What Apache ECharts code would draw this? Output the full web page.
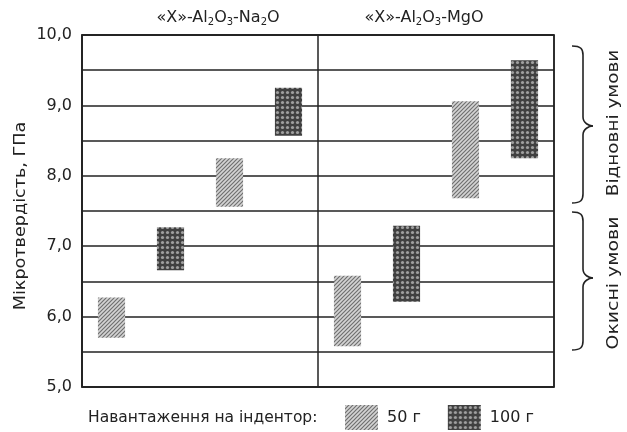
<!DOCTYPE html>
<html>
<head>
<meta charset="utf-8">
<script src="https://cdn.jsdelivr.net/npm/echarts@6/dist/echarts.min.js"></script>
<style>html,body{margin:0;padding:0;background:#fff}#c{width:627px;height:432px}</style>
</head>
<body>
<div id="c"></div>
<script>
// ---- data ----
const systems = ['«X»-Al2O3-Na2O', '«X»-Al2O3-MgO'];
const categories = ['Na2O ок. 50', 'Na2O ок. 100', 'Na2O від. 50', 'Na2O від. 100',
                    'MgO ок. 50', 'MgO ок. 100', 'MgO від. 50', 'MgO від. 100'];
const loads = ['50 г', '100 г', '50 г', '100 г', '50 г', '100 г', '50 г', '100 г'];
const lowValues  = [5.70, 6.66, 7.56, 8.57, 5.58, 6.21, 7.68, 8.25];
const highValues = [6.27, 7.27, 8.25, 9.25, 6.58, 7.29, 9.06, 9.64];
const yTicks = [5, 6, 7, 8, 9, 10];
const legendNames = ['50 г', '100 г'];
const yName = 'Мікротвердість, ГПа';
const legendTitle = 'Навантаження на індентор:';
const condTop = 'Відновні умови';
const condBottom = 'Окисні умови';

// ---- patterns ----
function hatchPattern() {
  const c = document.createElement('canvas');
  c.width = 4; c.height = 4;
  const g = c.getContext('2d');
  g.fillStyle = '#d4d4d4'; g.fillRect(0, 0, 4, 4);
  g.strokeStyle = '#707070'; g.lineWidth = 1.2;
  g.beginPath();
  g.moveTo(-1, 5); g.lineTo(5, -1);
  g.moveTo(-1, 1); g.lineTo(1, -1);
  g.moveTo(3, 5); g.lineTo(5, 3);
  g.stroke();
  return c;
}
function crossPattern() {
  const c = document.createElement('canvas');
  c.width = 5; c.height = 5;
  const g = c.getContext('2d');
  g.fillStyle = '#404040'; g.fillRect(0, 0, 5, 5);
  g.fillStyle = '#a0a0a0';
  g.beginPath(); g.arc(2.5, 2.5, 1.6, 0, Math.PI * 2); g.fill();
  return c;
}
const fills = {
  '50 г': { image: hatchPattern(), repeat: 'repeat' },
  '100 г': { image: crossPattern(), repeat: 'repeat' }
};

const FONT = '"DejaVu Sans", "Liberation Sans", Arial, sans-serif';
const FS = 16;
const TXT = '#222';

function seriesFor(name) {
  const data = [];
  categories.forEach((c, i) => {
    if (loads[i] === name) data.push([i, lowValues[i], highValues[i]]);
  });
  return {
    type: 'custom',
    name: name,
    xAxisIndex: 0,
    itemStyle: { color: fills[name] },
    encode: { x: 0, y: [1, 2] },
    data: data,
    renderItem: function (params, api) {
      const x = api.value(0);
      const lo = api.coord([x, api.value(1)]);
      const hi = api.coord([x, api.value(2)]);
      const w = api.size([1, 0])[0] * 0.46;
      return {
        type: 'rect',
        shape: { x: lo[0] - w / 2, y: hi[1], width: w, height: lo[1] - hi[1] },
        style: { fill: fills[name] }
      };
    }
  };
}

function sysLabel(v, idx) {
  const parts = v.replace(/(\d)/g, '|$1|').split('|');
  let s = idx === 0 ? '{sp|}' : '';
  parts.forEach(p => {
    if (p === '') return;
    if (/^\d$/.test(p)) s += '{s|' + p + '}';
    else s += '{t|' + p + '}';
  });
  if (idx === 1) s += '{sp2|}';
  return s;
}

// curly brace made of bezier pieces (decoration)
function brace(xl, xm, xt, y0, ym, y1) {
  const st = { stroke: TXT, lineWidth: 1.6, fill: null };
  const r = 9;
  return [
    { type: 'bezierCurve', shape: { x1: xl, y1: y0, cpx1: xm - 2, cpy1: y0, cpx2: xm, cpy2: y0 + 3, x2: xm, y2: y0 + r }, style: st },
    { type: 'line', shape: { x1: xm, y1: y0 + r, x2: xm, y2: ym - r }, style: st },
    { type: 'bezierCurve', shape: { x1: xm, y1: ym - r, cpx1: xm, cpy1: ym - 3, cpx2: xt - 4, cpy2: ym, x2: xt, y2: ym }, style: st },
    { type: 'bezierCurve', shape: { x1: xt, y1: ym, cpx1: xt - 4, cpy1: ym, cpx2: xm, cpy2: ym + 3, x2: xm, y2: ym + r }, style: st },
    { type: 'line', shape: { x1: xm, y1: ym + r, x2: xm, y2: y1 - r }, style: st },
    { type: 'bezierCurve', shape: { x1: xm, y1: y1 - r, cpx1: xm, cpy1: y1 - 3, cpx2: xm - 2, cpy2: y1, x2: xl, y2: y1 }, style: st }
  ];
}

const chart = echarts.init(document.getElementById('c'), null, { renderer: 'canvas' });
chart.setOption({
  animation: false,
  backgroundColor: '#fff',
  grid: { left: 82, right: 73, top: 35, bottom: 45, show: true, borderColor: TXT, borderWidth: 1.5, backgroundColor: 'transparent' },
  xAxis: [
    {
      type: 'category', data: categories, position: 'bottom',
      axisLine: { show: true, lineStyle: { color: TXT, width: 1.5 } },
      axisTick: { show: false }, axisLabel: { show: false }, splitLine: { show: false }
    },
    {
      type: 'category', data: systems, position: 'top',
      axisLine: { show: true, lineStyle: { color: TXT, width: 1.5 } },
      axisTick: { show: false, interval: 0 },
      splitLine: { show: true, interval: 0, lineStyle: { color: TXT, width: 1.5 } },
      axisLabel: {
        margin: 8,
        interval: 0,
        hideOverlap: false,
        formatter: sysLabel,
        rich: {
          t: { fontSize: FS, fontFamily: FONT, color: TXT },
          s: { fontSize: 10, fontFamily: FONT, color: TXT, padding: [8, 0, 0, 0] },
          sp: { width: 36 },
          sp2: { width: 24 }
        }
      }
    }
  ],
  yAxis: {
    type: 'value', min: 5, max: 10, interval: 0.5,
    axisLine: { show: true, lineStyle: { color: TXT, width: 1.5 } },
    axisTick: { show: false },
    splitLine: { show: true, lineStyle: { color: TXT, width: 1.5 } },
    axisLabel: {
      margin: 10, fontSize: FS, fontFamily: FONT, color: TXT,
      formatter: function (v) {
        const r = Math.round(v);
        if (Math.abs(v - r) > 1e-6 || yTicks.indexOf(r) < 0) return '';
        return r.toFixed(1).replace('.', ',');
      }
    }
  },
  legend: {
    data: legendNames,
    left: 345, top: 405, padding: 0,
    itemWidth: 33, itemHeight: 25, itemGap: 27,
    icon: 'rect',
    textStyle: { fontSize: FS, fontFamily: FONT, color: TXT, padding: [0, 0, 0, 4] },
    selectedMode: false
  },
  graphic: [
    { type: 'text', x: 21, y: 216, rotation: Math.PI / 2, scaleX: 1.1,
      style: { text: yName, fontSize: FS, fontFamily: FONT, fill: TXT, align: 'center', verticalAlign: 'middle' } },
    { type: 'text', x: 88, y: 418,
      style: { text: legendTitle, fontSize: 15.5, fontFamily: FONT, fill: TXT, align: 'left', verticalAlign: 'middle' } },
    { type: 'text', x: 614, y: 123, rotation: Math.PI / 2, scaleX: 1.15,
      style: { text: condTop, fontSize: FS, fontFamily: FONT, fill: TXT, align: 'center', verticalAlign: 'middle' } },
    { type: 'text', x: 614, y: 283, rotation: Math.PI / 2, scaleX: 1.18,
      style: { text: condBottom, fontSize: FS, fontFamily: FONT, fill: TXT, align: 'center', verticalAlign: 'middle' } }
  ].concat(brace(572, 583, 593, 46, 126, 203), brace(572, 583, 593, 212, 278, 350)),
  series: legendNames.map(seriesFor)
});
</script>
</body>
</html>
